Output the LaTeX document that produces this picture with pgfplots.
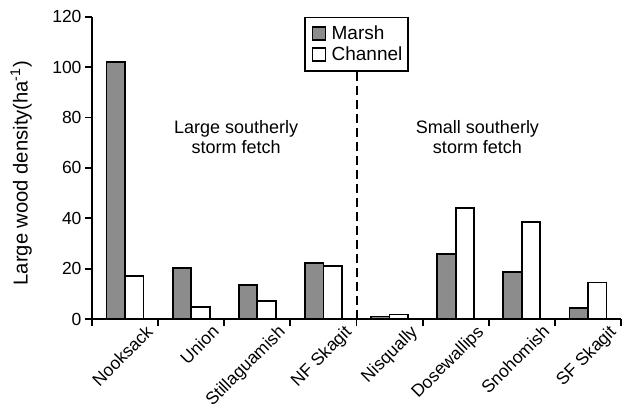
\documentclass[border=0pt]{standalone}
\usepackage{fontspec}
\setmainfont{Liberation Sans}
\usepackage{pgfplots}
\pgfplotsset{compat=1.18}
\definecolor{marsh}{RGB}{140,140,140}
\newcommand{\tl}{\fontsize{17.5bp}{20bp}\selectfont}
\begin{document}
\begin{tikzpicture}
\begin{axis}[
  at={(0,0)}, anchor=south west,
  scale only axis, width=529bp, height=302.3bp,
  xmin=-0.5, xmax=7.5, ymin=0, ymax=120,
  axis lines=left, axis line style={-, line width=1.8bp},
  /pgf/number format/assume math mode=true,
  ybar=0pt, bar width=0.28,
  ytick={0,20,...,120},
  yticklabel={\tl\pgfmathprintnumber{\tick}},
  xtick={-0.5,0.5,...,7.5}, xticklabels={,,,,,,,,,},
  extra x ticks={0.3,1.3,2.3,3.3,4.3,5.3,6.3,7.3},
  extra x tick labels={{\tl Nooksack},{\tl Union},{\tl Stillaguamish},{\tl NF Skagit},{\tl Nisqually},{\tl Dosewallips},{\tl Snohomish},{\tl SF Skagit}},
  extra x tick style={major tick length=0pt, tick style={draw=none}},
  tick align=outside, major tick length=7bp,
  tick style={line width=1.8bp, black},
  xticklabel style={rotate=45, anchor=north east},
  ylabel={Large wood density(ha\textsuperscript{-1})},
  ylabel style={at={(axis description cs:-0.134,0.482)}, anchor=center, font=\fontsize{20.2bp}{22bp}\selectfont},
  legend style={at={(axis cs:3.5,120)}, anchor=north, draw=black, line width=1.8bp,
    font=\fontsize{19bp}{21bp}\selectfont, inner xsep=4bp, inner ysep=6.5bp, row sep=1.5bp,
    nodes={inner sep=2bp}},
  legend cell align=left,
  clip=false,
]
\addplot[fill=marsh, draw=black, line width=1.8bp,
  legend image code/.code={\draw[fill=marsh, draw=black, line width=1.6bp] (4bp,-6.5bp) rectangle (17bp,6.5bp); \path[draw=none, fill=none] (0bp,0bp) -- (21bp,0bp);}]
  coordinates {(0,101.9) (1,20.4) (2,13.4) (3,22.2) (4,1.0) (5,25.8) (6,18.8) (7,4.4)};
\addlegendentry{Marsh}
\addplot[fill=white, draw=black, line width=1.8bp,
  legend image code/.code={\draw[fill=white, draw=black, line width=1.6bp] (4bp,-6.5bp) rectangle (17bp,6.5bp); \path[draw=none, fill=none] (0bp,0bp) -- (21bp,0bp);}]
  coordinates {(0,17.2) (1,4.7) (2,7.0) (3,21.0) (4,1.8) (5,44.0) (6,38.4) (7,14.5)};
\addlegendentry{Channel}
\draw[line width=2bp, dash pattern=on 9bp off 5bp] (axis cs:3.5,0) -- (axis cs:3.5,98.4);
\node[align=center, font=\fontsize{18bp}{20.5bp}\selectfont] at (axis cs:1.68,72.3) {Large southerly\\storm fetch};
\node[align=center, font=\fontsize{18bp}{20.5bp}\selectfont] at (axis cs:5.33,72.3) {Small southerly\\storm fetch};
\end{axis}
\pgfresetboundingbox
\path[use as bounding box] (-92bp,-87bp) rectangle (530bp,319bp);
\end{tikzpicture}
\end{document}
